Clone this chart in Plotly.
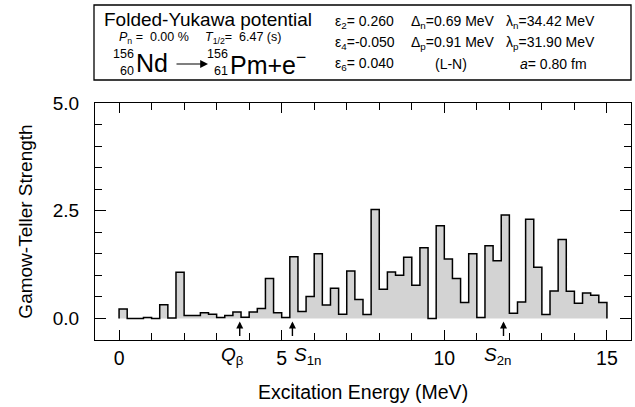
import numpy as np
import plotly.graph_objects as go

# Gamow-Teller strength per 0.25 MeV bin, 0 - 15 MeV
bin_width = 0.25
gt_strength = [
    0.22, 0.00, 0.00, 0.02, 0.00, 0.32, 0.01, 1.07, 0.07, 0.07,
    0.135, 0.10, 0.02, 0.07, 0.15, 0.03, 0.15, 0.23, 0.93, 0.13,
    0.02, 1.43, 0.16, 0.51, 1.50, 0.31, 0.70, 0.10, 1.10, 0.44,
    0.09, 2.53, 0.68, 1.08, 1.00, 1.42, 0.77, 1.64, 0.00, 2.15,
    1.38, 0.93, 0.37, 1.50, 0.02, 1.69, 1.34, 2.40, 0.12, 0.38,
    2.30, 1.19, 0.09, 0.64, 1.83, 0.63, 0.35, 0.59, 0.54, 0.37,
]

# energy markers (MeV)
marker_names = ["<i>Q</i><sub>β</sub>", "<i>S</i><sub>1n</sub>", "<i>S</i><sub>2n</sub>"]
marker_energy = [3.71, 5.33, 11.82]

FONT = "Liberation Sans, Arial, Helvetica, sans-serif"

W, H = 635, 407
L, R, T, B = 95, 631, 103, 340


def px(x):
    return (x - L) / (R - L)


def py(y):
    return (B - y) / (B - T)


edges = np.arange(len(gt_strength) + 1) * bin_width
xs = np.concatenate([[0.0], edges])
ys = np.concatenate([[0.0], gt_strength, [0.0]])

fig = go.Figure()

fig.add_trace(
    go.Scatter(
        x=xs,
        y=ys,
        mode="lines",
        line=dict(color="black", width=1.5, shape="hv"),
        fill="tozeroy",
        fillcolor="#d3d3d3",
        showlegend=False,
        hoverinfo="skip",
    )
)

annotations = []

for e in marker_energy:
    annotations.append(
        dict(
            x=e, y=-0.07, ax=e, ay=-0.44,
            xref="x", yref="y", axref="x", ayref="y",
            text="", showarrow=True,
            arrowhead=2, arrowsize=1.0, arrowwidth=1.4, arrowcolor="black",
        )
    )

label_pos = [(232, 356), (307, 356), (497, 356)]
for name, (lx, ly) in zip(marker_names, label_pos):
    annotations.append(
        dict(
            x=px(lx), y=py(ly), xref="paper", yref="paper",
            text=name, showarrow=False, xanchor="center", yanchor="middle",
            font=dict(size=19, color="black", family=FONT),
        )
    )


def txt(x, y, s, size, anchor="left"):
    annotations.append(
        dict(
            x=px(x), y=py(y), xref="paper", yref="paper",
            text=s, showarrow=False, xanchor=anchor, yanchor="middle",
            font=dict(size=size, color="black", family=FONT),
        )
    )


# header box
txt(102, 19, "Folded-Yukawa potential", 19)
txt(117, 38, "<i>P</i><sub>n</sub> =  0.00 %", 12.5)
txt(203, 38, "<i>T</i><sub>1/2</sub>=  6.47 (s)", 12.5)

txt(136, 54, "156", 12.5, "right")
txt(136, 71, "60", 12.5, "right")
txt(134, 63, "Nd", 25)
txt(230, 54, "156", 12.5, "right")
txt(230, 71, "61", 12.5, "right")
txt(228, 63, "Pm+e<sup>−</sup>", 25)

# reaction arrow
annotations.append(
    dict(
        x=px(208), y=py(64), ax=-33, ay=0,
        xref="paper", yref="paper", axref="pixel", ayref="pixel",
        text="", showarrow=True,
        arrowhead=2, arrowsize=1.3, arrowwidth=1.2, arrowcolor="black",
    )
)

rows = [22, 43, 64]
col1 = ["ε<sub>2</sub>= 0.260", "ε<sub>4</sub>=-0.050", "ε<sub>6</sub>= 0.040"]
col2 = ["Δ<sub>n</sub>=0.69 MeV", "Δ<sub>p</sub>=0.91 MeV", "(L-N)"]
col3 = ["λ<sub>n</sub>=34.42 MeV", "λ<sub>p</sub>=31.90 MeV", "<i>a</i>= 0.80 fm"]
for i, r in enumerate(rows):
    txt(333, r, col1[i], 14)
    if i < 2:
        txt(409, r, col2[i], 14)
        txt(504, r, col3[i], 14)
    else:
        txt(451, r, col2[i], 14, "center")
        txt(518, r, col3[i], 14)

fig.add_shape(
    type="rect", xref="paper", yref="paper",
    x0=px(94), x1=px(631), y0=py(80), y1=py(5),
    line=dict(color="black", width=1.3),
)

fig.update_layout(
    width=W, height=H,
    margin=dict(l=L, r=W - R, t=T, b=H - B),
    paper_bgcolor="white",
    plot_bgcolor="white",
    font=dict(family=FONT, size=19, color="black"),
    annotations=annotations,
    showlegend=False,
)

fig.update_xaxes(
    range=[-0.74, 15.74],
    tickvals=[0, 5, 10, 15],
    ticktext=["0", "5", "10", "15"],
    ticks="inside", ticklen=10, tickwidth=1, tickcolor="black",
    minor=dict(dtick=1, ticks="inside", ticklen=7, tickcolor="black", showgrid=False),
    showline=True, linecolor="black", linewidth=1.3, mirror="ticks",
    showgrid=False, zeroline=False,
    tickfont=dict(size=19.5),
    title=dict(text="Excitation Energy (MeV)", font=dict(size=19.5), standoff=17),
)

fig.update_yaxes(
    range=[-0.5, 5.0],
    tickvals=[0, 2.5, 5.0],
    ticktext=["0.0", "2.5", "5.0"],
    ticks="inside", ticklen=11, tickwidth=1, tickcolor="black",
    minor=dict(dtick=0.5, ticks="inside", ticklen=7, tickcolor="black", showgrid=False),
    showline=True, linecolor="black", linewidth=1.3, mirror="ticks",
    showgrid=False, zeroline=False,
    tickfont=dict(size=19),
    ticklabelstandoff=11,
    title=dict(text="Gamow-Teller Strength", font=dict(size=19), standoff=14),
)

fig.write_html(
    "out.html",
    config={"displayModeBar": False},
    post_script="document.body.style.margin='0';",
)
